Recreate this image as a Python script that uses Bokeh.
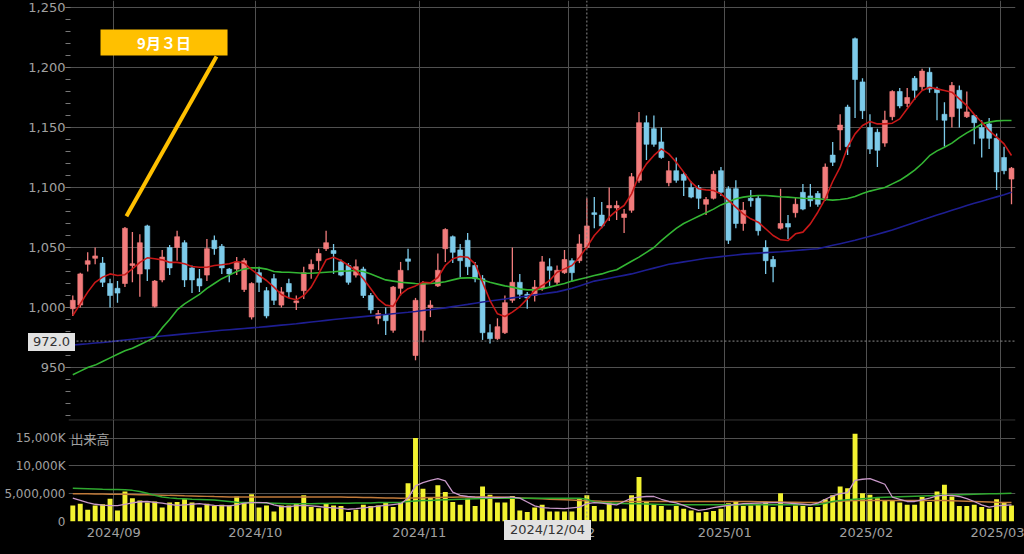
import pandas as pd
from bokeh.plotting import figure
from bokeh.layouts import column
from bokeh.models import (ColumnDataSource, FixedTicker, NumeralTickFormatter,
                          Range1d, Span, Label, Div)
from bokeh.embed import file_html
from bokeh.resources import INLINE

# ---------------------------------------------------------------- data
holidays = ["2024-09-16", "2024-09-23", "2024-10-14", "2024-11-04", "2024-12-31",
            "2025-01-01", "2025-01-02", "2025-01-03", "2025-01-13", "2025-02-11",
            "2025-02-24"]
trade_dates = pd.bdate_range("2024-08-23", "2025-03-04", freq="C", holidays=holidays)

open_ = [999, 1002, 1036, 1041, 1037, 1020, 1016, 1020, 1035, 1028,
         1068, 1001, 1023, 1050, 1050, 1054, 1033, 1024, 1027, 1056,
         1051, 1032, 1032, 1015, 992, 1029, 1014, 1024, 1002, 1020,
         1004, 1014, 1032, 1039, 1049, 1047.5, 1038, 1035, 1027, 1032,
         1010, 991, 994, 981, 1016, 1040.5, 960, 981, 1000, 1018,
         1049, 1059, 1048, 1056, 1035, 1024, 979, 974, 979, 1006,
         1021, 1011, 1010, 1016, 1034, 1021, 1029, 1039, 1039, 1050,
         1079, 1077, 1083, 1083, 1075, 1081, 1106, 1154, 1149, 1138,
         1104, 1114, 1111, 1100, 1100, 1086, 1091, 1114, 1099, 1099,
         1070, 1091, 1091, 1050, 1040, 1066, 1070, 1079, 1096, 1093,
         1095, 1091, 1127, 1148, 1167, 1224, 1188, 1150, 1146, 1137,
         1159, 1180, 1170, 1191, 1184, 1196, 1182, 1161, 1159, 1181,
         1159, 1160, 1150, 1153, 1141, 1125, 1107]

high = [1010, 1029, 1046, 1050, 1042, 1024, 1022, 1067, 1063, 1061,
        1069, 1023, 1048, 1052, 1064, 1056, 1035, 1032, 1057, 1060,
        1053, 1033, 1042, 1041, 1021, 1034, 1017, 1028, 1017, 1024,
        1010, 1034, 1040, 1049, 1064, 1053, 1040, 1037, 1040, 1034,
        1012, 998, 1000, 1018, 1038, 1049, 1008, 1022, 1006, 1045,
        1066, 1060, 1053, 1062, 1038, 1027, 986, 991, 1010, 1050,
        1028, 1013, 1023, 1043, 1041, 1035, 1048, 1041, 1061, 1091,
        1092, 1088, 1100, 1089, 1082, 1112, 1163, 1160, 1160, 1150,
        1122, 1125, 1113, 1105, 1102, 1092, 1114, 1117, 1101, 1106,
        1088, 1098, 1093, 1056, 1043, 1099, 1077, 1092, 1103, 1103,
        1097, 1120, 1138, 1161, 1169, 1225, 1191, 1161, 1149, 1164,
        1181, 1183, 1183, 1193, 1199, 1200, 1184, 1171, 1188, 1185,
        1180, 1161, 1156, 1158, 1145, 1134, 1117]

low = [993, 1000, 1030, 1036, 1017, 1000, 1004, 1017, 1021, 1009,
       1022, 1000, 1021, 1027, 1039, 1017, 1012, 1013, 1022, 1044,
       1028, 1021, 1027, 1013, 990, 1013, 991, 1002, 1000, 1008,
       998, 1007, 1024, 1031, 1047, 1028, 1026, 1019, 1025, 1008,
       995, 986, 977, 979, 1010, 1031, 956, 971, 992, 1017,
       1038, 1037, 1025, 1027, 1021, 973, 970, 973, 978, 1004,
       1007, 999, 1005, 1014, 1018, 1019, 1028, 1022, 1037, 1049,
       1066, 1066, 1072, 1073, 1062, 1079, 1104, 1123, 1134, 1124,
       1101, 1104, 1093, 1091, 1082, 1077, 1090, 1093, 1053, 1066,
       1064, 1084, 1060, 1028, 1021, 1065, 1057, 1075, 1081, 1084,
       1084, 1089, 1118, 1131, 1127, 1158, 1157, 1128, 1117, 1134,
       1156, 1166, 1167, 1173, 1181, 1179, 1156, 1134, 1150, 1150,
       1158, 1136, 1125, 1132, 1098, 1111, 1086]

close = [1006, 1028, 1039, 1043, 1021, 1010, 1012, 1066, 1036.5, 1054,
         1032, 1022, 1042, 1033, 1059, 1023, 1023, 1018, 1049, 1049,
         1033, 1028, 1038, 1039, 1020, 1021, 993, 1006, 1013, 1013,
         1005.5, 1029, 1036, 1045, 1054, 1045, 1027, 1021, 1034, 1010,
         998, 995, 989, 1017, 1031, 1038.5, 1006, 1020, 1002, 1031,
         1065, 1046, 1039, 1034, 1024, 979, 974, 984, 1004, 1021,
         1011, 1008, 1017, 1038, 1031, 1031, 1040, 1029, 1053, 1068,
         1077.5, 1068, 1085, 1085, 1078, 1109, 1154, 1136, 1136, 1125,
         1114, 1106, 1106, 1092, 1091, 1090, 1111, 1096, 1056, 1070,
         1081, 1089, 1064, 1039, 1034, 1070, 1067, 1086, 1082, 1089,
         1086, 1117, 1121, 1152, 1134, 1190, 1164, 1132, 1131, 1156,
         1180, 1168, 1175, 1181, 1197, 1182, 1179, 1156, 1185, 1166,
         1163, 1154, 1141, 1141, 1113, 1114, 1116]

ma_short = [993.3, 1003, 1012.8, 1021, 1025.3, 1028, 1026.7, 1027.3, 1032.2, 1037.6,
            1041.4, 1040.6, 1039.7, 1037.6, 1037.6, 1036.4, 1034.2, 1033.6, 1033.6, 1035,
            1035.6, 1036.4, 1038.3, 1037, 1031.5, 1026.7, 1022.5, 1017, 1010.8, 1008,
            1006.4, 1010, 1017, 1028, 1039.7, 1041.9, 1039.2, 1035, 1030.8, 1023.9,
            1015.6, 1007, 1002, 1001, 1011, 1015.7, 1018, 1021, 1020.5, 1025,
            1035, 1040.6, 1042.5, 1041.9, 1036.4, 1021, 1005.8, 994.7, 992.5, 996.1,
            1000.8, 1007.2, 1014.2, 1018.3, 1022.5, 1029.4, 1032.2, 1035, 1041.9, 1050.3,
            1060, 1066.9, 1075.3, 1080.8, 1085, 1094.7, 1110, 1119.7, 1126.7, 1132.2,
            1128, 1121.1, 1112.8, 1104.4, 1098.9, 1098, 1097.5, 1094.7, 1089.2, 1083.6,
            1078, 1073.9, 1071.1, 1065.6, 1060, 1056.4, 1055.8, 1061.4, 1062.8, 1069.7,
            1079.4, 1090.6, 1105, 1116.9, 1133.6, 1144.7, 1151.7, 1155, 1153, 1153,
            1153.6, 1157.2, 1165.6, 1173.9, 1180.8, 1183.6, 1182.2, 1180.8, 1179.4, 1173.9,
            1168.3, 1160.8, 1154.4, 1147.5, 1141.9, 1136.4, 1126.7]

ma_mid = [944, 947, 950, 952, 955, 958, 961, 964, 966, 969,
          972, 975, 983, 990, 998, 1003, 1007, 1011, 1016, 1020,
          1024, 1027, 1030, 1032, 1033, 1033, 1032, 1030, 1029.5, 1029.4,
          1029, 1028.6, 1028.6, 1029, 1029.4, 1029.8, 1030.3, 1030.5, 1030.8, 1030,
          1028, 1025.5, 1023, 1022, 1021, 1020.5, 1020, 1019.7, 1020, 1020.5,
          1021.5, 1023, 1024.5, 1024.7, 1024.7, 1023, 1021, 1019.5, 1018, 1017,
          1015.5, 1014.7, 1014.7, 1015.5, 1017, 1018.5, 1020, 1022, 1023.5, 1025,
          1026.7, 1028, 1030, 1031.5, 1035, 1038.5, 1042, 1046, 1050, 1055.8,
          1061, 1066, 1070, 1073, 1076, 1079, 1082, 1085.5, 1088, 1090.6,
          1092, 1092.8, 1093.3, 1093.3, 1092.8, 1092.3, 1092, 1091.5, 1091, 1090.8,
          1090.6, 1090, 1089.5, 1090, 1090.8, 1092.5, 1095, 1097, 1098.5, 1100,
          1103, 1106, 1110, 1114.5, 1120, 1126.5, 1130.5, 1133.5, 1137, 1141.5,
          1145.5, 1149, 1153, 1154.5, 1155.5, 1155.8, 1155.8]

ma_long = [968.7, 969.3, 969.8, 970.4, 970.9, 971.5, 972.2, 972.9, 973.6, 974.3,
           975, 975.6, 976.2, 976.8, 977.4, 978, 978.6, 979.2, 979.8, 980.4,
           981, 981.5, 982, 982.5, 983, 983.5, 984.1, 984.7, 985.3, 985.9,
           986.5, 987.2, 987.9, 988.6, 989.3, 990, 990.6, 991.2, 991.8, 992.4,
           993, 993.6, 994.2, 994.8, 995.4, 996, 996.7, 997.5, 998.2, 999,
           999.7, 1000.7, 1001.7, 1002.6, 1003.6, 1004.6, 1005.4, 1006.3, 1007.1, 1008,
           1008.8, 1009.6, 1010.5, 1011.3, 1012.2, 1013, 1014.5, 1016, 1018, 1020,
           1022, 1023.2, 1024.4, 1025.6, 1026.8, 1028, 1029.6, 1031.2, 1032.8, 1034.4,
           1036, 1037, 1038, 1039, 1040, 1041, 1041.7, 1042.4, 1043.1, 1043.8,
           1044.5, 1044.9, 1045.3, 1045.7, 1046.1, 1046.5, 1047, 1047.5, 1048, 1048.5,
           1049, 1050.4, 1051.8, 1053.2, 1054.6, 1056, 1057.7, 1059.4, 1061.1, 1062.8,
           1064.5, 1066.6, 1068.7, 1070.8, 1072.9, 1075, 1077, 1079, 1081, 1083,
           1085, 1086.8, 1088.6, 1090.4, 1092.2, 1094, 1096]

volume_million = [2.9, 3.2, 2.1, 2.9, 3.1, 4.1, 2.0, 5.4, 4.2, 3.8,
                  3.4, 3.6, 2.5, 3.4, 3.5, 4.0, 3.4, 2.5, 3.2, 2.8,
                  3.0, 2.9, 4.5, 3.4, 4.9, 2.5, 2.9, 1.8, 2.9, 2.9,
                  3.2, 4.7, 2.6, 2.4, 3.2, 2.9, 2.8, 1.7, 2.1, 3.0,
                  2.8, 2.9, 3.4, 2.6, 3.4, 6.9, 15.0, 5.9, 4.4, 6.5,
                  5.3, 3.5, 3.0, 4.1, 2.8, 6.3, 4.8, 3.4, 3.4, 4.6,
                  2.0, 1.7, 2.5, 3.0, 1.8, 1.8, 1.8, 1.8, 4.1, 4.7,
                  2.8, 2.1, 3.4, 2.3, 2.3, 4.7, 8.0, 3.5, 3.0, 2.8,
                  2.1, 2.8, 2.3, 2.0, 1.6, 1.7, 1.9, 2.3, 3.3, 3.5,
                  2.8, 2.9, 3.2, 3.4, 2.6, 5.1, 2.6, 2.9, 2.8, 2.6,
                  2.6, 4.0, 4.7, 6.3, 6.0, 15.8, 5.1, 4.8, 4.2, 3.8,
                  3.7, 3.4, 3.0, 3.0, 4.4, 3.5, 5.4, 6.6, 4.5, 2.8,
                  2.8, 3.0, 2.6, 2.3, 4.0, 3.4, 2.9]

vol_ma_short = [4.2, 3.8, 3.4, 3.1, 2.95, 2.85, 2.85, 3.1, 3.35, 3.55,
                3.6, 3.45, 3.3, 3.1, 2.9, 3.0, 3.1, 3.2, 3.05, 2.9,
                2.85, 2.8, 3.0, 3.3, 3.4, 3.4, 3.4, 3.0, 2.7, 2.65,
                2.85, 2.9, 2.8, 2.7, 2.55, 2.45, 2.35, 2.2, 2.3, 2.45,
                2.6, 2.75, 2.9, 3.05, 3.2, 4.2, 6.4, 7.0, 7.4, 7.7,
                7.3, 5.3, 4.7, 4.5, 4.4, 4.35, 4.3, 4.3, 4.35, 4.4,
                4.2, 3.5, 2.8, 2.5, 2.4, 2.35, 2.3, 2.45, 2.6, 3.2,
                3.4, 3.3, 3.15, 3.0, 3.6, 4.2, 4.4, 4.5, 4.5, 4.0,
                3.6, 3.35, 2.9, 2.4, 2.0, 2.2, 2.5, 2.7, 2.9, 3.05,
                3.2, 3.25, 3.3, 3.35, 3.4, 3.4, 3.3, 3.2, 3.1, 3.0,
                3.3, 4.0, 4.6, 5.0, 5.2, 7.4, 7.6, 7.7, 7.2, 6.7,
                4.4, 4.0, 3.6, 3.6, 3.9, 4.2, 4.6, 4.7, 4.7, 4.5,
                4.1, 3.6, 3.0, 2.6, 2.8, 2.9, 3.0]

vol_ma_mid = [6.0, 5.95, 5.9, 5.85, 5.8, 5.77, 5.75, 5.7, 5.6, 5.4,
              5.1, 4.7, 4.4, 4.25, 4.15, 4.1, 4.0, 3.95, 3.9, 3.85,
              3.75, 3.6, 3.45, 3.4, 3.4, 3.4, 3.35, 3.3, 3.25, 3.2,
              3.2, 3.2, 3.2, 3.25, 3.25, 3.3, 3.3, 3.3, 3.35, 3.35,
              3.35, 3.4, 3.4, 3.4, 3.45, 3.6, 3.7, 3.8, 3.8, 3.85,
              3.9, 3.95, 4.0, 4.05, 4.1, 4.15, 4.2, 4.2, 4.2, 4.2,
              4.2, 4.2, 4.2, 4.2, 4.2, 4.2, 4.2, 4.2, 4.2, 4.0,
              3.5, 3.4, 3.35, 3.3, 3.25, 3.2, 3.2, 3.15, 3.1, 3.05,
              3.0, 3.0, 3.0, 3.0, 3.0, 3.0, 3.0, 3.0, 3.0, 3.0,
              3.0, 3.0, 3.0, 3.0, 3.0, 3.0, 3.0, 3.0, 3.0, 3.0,
              3.0, 3.3, 3.6, 3.8, 3.9, 4.0, 4.1, 4.2, 4.3, 4.35,
              4.4, 4.45, 4.5, 4.55, 4.6, 4.65, 4.7, 4.7, 4.75, 4.8,
              4.85, 4.9, 4.95, 5.0, 5.0, 5.05, 5.1]

vol_ma_long = [5.0, 5.0, 4.98, 4.96, 4.94, 4.92, 4.9, 4.88, 4.86, 4.83,
               4.8, 4.77, 4.74, 4.7, 4.67, 4.63, 4.6, 4.56, 4.52, 4.48,
               4.45, 4.42, 4.4, 4.4, 4.4, 4.4, 4.4, 4.4, 4.4, 4.4,
               4.4, 4.4, 4.4, 4.4, 4.4, 4.4, 4.4, 4.38, 4.35, 4.32,
               4.3, 4.27, 4.24, 4.22, 4.2, 4.22, 4.25, 4.27, 4.3, 4.32,
               4.35, 4.37, 4.4, 4.4, 4.4, 4.4, 4.4, 4.4, 4.35, 4.3,
               4.25, 4.2, 4.15, 4.1, 4.0, 3.95, 3.9, 3.85, 3.8, 3.75,
               3.7, 3.65, 3.62, 3.6, 3.6, 3.6, 3.6, 3.6, 3.6, 3.6,
               3.6, 3.6, 3.6, 3.6, 3.6, 3.6, 3.6, 3.6, 3.6, 3.6,
               3.6, 3.58, 3.56, 3.54, 3.52, 3.5, 3.48, 3.46, 3.44, 3.42,
               3.4, 3.45, 3.55, 3.65, 3.75, 3.8, 3.8, 3.8, 3.8, 3.8,
               3.8, 3.8, 3.8, 3.8, 3.8, 3.8, 3.8, 3.8, 3.75, 3.7,
               3.65, 3.6, 3.55, 3.5, 3.45, 3.42, 3.4]

price_ticks = [950, 1000, 1050, 1100, 1150, 1200, 1250]
volume_ticks = [0, 5_000_000, 10_000_000, 15_000_000]
volume_tick_labels = ["0", "5,000,000", "10,000K", "15,000K"]
volume_title = "出来高"
callout_date = "2024-09-03"
callout_text = "9月３日"
cross_date = "2024-12-04"
cross_price = 972.0

n = len(trade_dates)
for arr in (open_, high, low, close, ma_short, ma_mid, ma_long, volume_million,
            vol_ma_short, vol_ma_mid, vol_ma_long):
    assert len(arr) == n, (len(arr), n)

date_str = [d.strftime("%Y-%m-%d") for d in trade_dates]
xs = list(range(n))

month_ticks, month_labels = [], {}
for i in range(1, n):
    if trade_dates[i].month != trade_dates[i - 1].month:
        t = i - 0.5
        month_ticks.append(t)
        month_labels[t] = trade_dates[i].strftime("%Y/%m")

# ---------------------------------------------------------------- style
BG = "#000000"
GRID = "#505050"
TXT = "#a0a0a0"
UP = "#F27C7C"
DOWN = "#7DCBEA"
FONT = "DejaVu Sans"
CJK = "Noto Sans CJK JP"

W = 1024
LEFT, RIGHT = 68, 9
BAR_PX = 7.45            # pixels per trading day
FIRST_BAR_PX = 72.3      # page x of first bar
x_start = -(FIRST_BAR_PX - LEFT) / BAR_PX
x_end = x_start + (W - LEFT - RIGHT) / BAR_PX
xr = Range1d(x_start, x_end)

# ---------------------------------------------------------------- price
p = figure(width=W, height=419, x_range=xr, y_range=Range1d(906.67, 1255.83),
           output_backend="svg", toolbar_location=None,
           min_border_left=LEFT, min_border_right=RIGHT,
           min_border_top=0, min_border_bottom=0,
           background_fill_color=BG, border_fill_color=BG,
           outline_line_color=None)
p.xaxis.visible = False
p.xaxis.ticker = FixedTicker(ticks=month_ticks)
p.xgrid.ticker = FixedTicker(ticks=month_ticks)
p.xgrid.grid_line_color = GRID
p.ygrid.grid_line_color = GRID
p.yaxis.ticker = FixedTicker(ticks=price_ticks, minor_ticks=list(range(910, 1251, 10)))
p.yaxis.formatter = NumeralTickFormatter(format="0,0")
p.yaxis.axis_line_color = None
p.yaxis.major_tick_line_color = "#777777"
p.yaxis.major_tick_out = 3
p.yaxis.major_tick_in = 0
p.yaxis.minor_tick_line_color = "#777777"
p.yaxis.minor_tick_out = 3
p.yaxis.minor_tick_in = 2
p.yaxis.major_label_standoff = 0
p.yaxis.major_label_text_color = TXT
p.yaxis.major_label_text_font = FONT
p.yaxis.major_label_text_font_size = "13px"

colors = [UP if c >= o else DOWN for o, c in zip(open_, close)]
src = ColumnDataSource(dict(
    x=xs, date=date_str, high=high, low=low,
    top=[max(o, c) for o, c in zip(open_, close)],
    bottom=[min(o, c) for o, c in zip(open_, close)],
    color=colors))
p.segment(x0="x", y0="low", x1="x", y1="high", line_color="color",
          line_width=1.3, source=src)
p.vbar(x="x", width=0.66, top="top", bottom="bottom", fill_color="color",
       line_color="color", line_width=0.6, source=src)

p.line(xs, ma_long, line_color="#1E1E92", line_width=1.6)
p.line(xs, ma_mid, line_color="#33B533", line_width=1.6)
p.line(xs, ma_short, line_color="#C81818", line_width=1.6)

# callout "9月３日"
ci = date_str.index(callout_date)
BOX_L, BOX_R, BOX_B, BOX_T = 3.72, 20.77, 1210.0, 1231.7
p.line([ci + 0.2, 19.29], [high[ci] + 9, 1209.2], line_color="#FFC000", line_width=4)
p.quad(left=[BOX_L], right=[BOX_R], bottom=[BOX_B], top=[BOX_T],
       fill_color="#FFC000", line_color=None)
p.add_layout(Label(x=(BOX_L + BOX_R) / 2, y=(BOX_B + BOX_T) / 2, text=callout_text,
                   text_align="center", text_baseline="middle", text_color="white",
                   text_font=CJK, text_font_size="15px", text_font_style="bold"))

# crosshair lines
cx = date_str.index(cross_date)
p.add_layout(Span(location=cross_price, dimension="width", line_color="#8a8a8a",
                  line_dash="2 2", line_width=1))
p.add_layout(Span(location=cx, dimension="height", line_color="#8a8a8a",
                  line_dash="2 2", line_width=1))

# ---------------------------------------------------------------- volume
VOL_TOP = 18.35e6
v = figure(width=W, height=135, x_range=xr, y_range=Range1d(0, VOL_TOP),
           output_backend="svg", toolbar_location=None,
           min_border_left=LEFT, min_border_right=RIGHT,
           min_border_top=0, min_border_bottom=33,
           background_fill_color=BG, border_fill_color=BG,
           outline_line_color=None)
vol = [m * 1e6 for m in volume_million]
v.vbar(x=xs, top=vol, bottom=0, width=0.66, fill_color="#F2F230", line_color=None)
v.line(xs, [m * 1e6 for m in vol_ma_long], line_color="#C07A3A", line_width=1.5)
v.line(xs, [m * 1e6 for m in vol_ma_mid], line_color="#2FA82F", line_width=1.5)
v.line(xs, [m * 1e6 for m in vol_ma_short], line_color="#C898C8", line_width=1.3)

v.xaxis.ticker = FixedTicker(ticks=month_ticks)
v.xaxis.major_label_overrides = month_labels
v.xaxis.axis_line_color = None
v.xaxis.major_tick_line_color = None
v.xaxis.major_tick_out = 0
v.xaxis.minor_tick_line_color = None
v.xaxis.major_label_standoff = 3
v.xaxis.major_label_text_color = TXT
v.xaxis.major_label_text_font = FONT
v.xaxis.major_label_text_font_size = "13px"
v.xgrid.grid_line_color = GRID
v.ygrid.grid_line_color = GRID

v.yaxis.ticker = FixedTicker(ticks=volume_ticks)
v.yaxis.major_label_overrides = dict(zip(volume_ticks, volume_tick_labels))
v.yaxis.axis_line_color = None
v.yaxis.major_tick_line_color = None
v.yaxis.major_tick_out = 0
v.yaxis.minor_tick_line_color = None
v.yaxis.major_label_standoff = 3
v.yaxis.major_label_text_color = TXT
v.yaxis.major_label_text_font = FONT
v.yaxis.major_label_text_font_size = "12px"

v.add_layout(Span(location=VOL_TOP * 0.997, dimension="width", line_color=GRID, line_width=1))
v.add_layout(Span(location=cx, dimension="height", line_color="#8a8a8a",
                  line_dash="2 2", line_width=1))
v.add_layout(Label(x=x_start, y=VOL_TOP * 0.902, text=volume_title, x_offset=2,
                   text_align="left", text_baseline="top", text_color=TXT,
                   text_font=CJK, text_font_size="13px"))

layout = column(p, v, spacing=0)

# crosshair read-outs (sit in the axis margins, outside the plot frames)
TAG = {"position": "absolute", "background-color": "#e2e2e2", "color": "#333333",
       "font-family": "DejaVu Sans", "font-size": "13px", "text-align": "center",
       "box-sizing": "border-box", "white-space": "nowrap", "z-index": "10"}
price_tag = Div(text=f"{cross_price:.1f}",
                styles=dict(TAG, left="23px", top="328px", width="47px",
                            height="18px", **{"line-height": "18px"}))
date_tag = Div(text=trade_dates[cx].strftime("%Y/%m/%d"),
               styles=dict(TAG, left="499px", top="515px", width="87px",
                           height="20px", **{"line-height": "20px"}))

html = file_html([layout, price_tag, date_tag], INLINE, title="chart")
html = html.replace("<head>", "<head><style>html,body{margin:0;padding:0;background:#000000;}</style>", 1)
open("out.html", "w").write(html)
